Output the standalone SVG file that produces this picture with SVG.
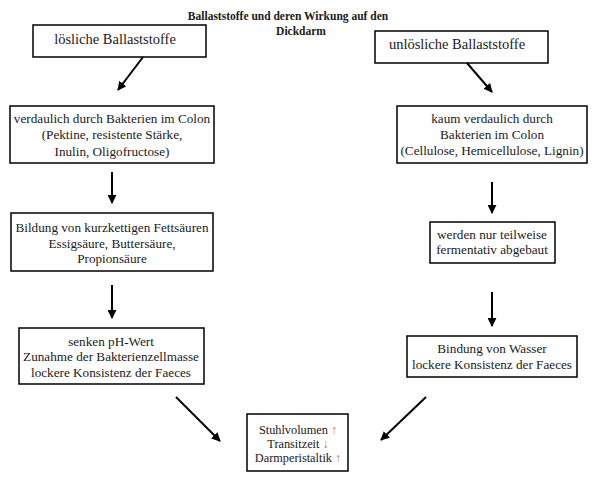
<svg xmlns="http://www.w3.org/2000/svg" width="598" height="481" viewBox="0 0 598 481">
<style>
  .box { fill: #fff; stroke: #000; stroke-width: 1.5; }
  .t { font-family: "Liberation Serif", "Times New Roman", serif; font-size: 13.2px; fill: #1a1a1a; text-anchor: middle; }
  .big { font-size: 14.5px; }
  .sm { font-size: 12.3px; }
  .title { font-family: "Liberation Serif", "Times New Roman", serif; font-size: 11.5px; font-weight: bold; fill: #1a1a1a; text-anchor: middle; }
  .arr { stroke: #000; stroke-width: 2; fill: none; marker-end: url(#ah); }
  .up { fill: #c4823c; }
</style>
<defs>
  <marker id="ah" viewBox="0 0 10 10" refX="9" refY="5" markerWidth="4.5" markerHeight="4.5" orient="auto" markerUnits="strokeWidth">
    <path d="M0,0 L10,5 L0,10 z" fill="#000"/>
  </marker>
</defs>
<rect width="598" height="481" fill="#fff"/>
<g id="title">
  <text class="title" x="288" y="20">Ballaststoffe und deren Wirkung auf den</text>
  <text class="title" x="301" y="35">Dickdarm</text>
</g>
<g id="n1"><rect class="box" x="33" y="25" width="173" height="32"/>
  <text class="t big" x="115" y="44">lösliche  Ballaststoffe</text></g>
<g id="n2"><rect class="box" x="10" y="106" width="204" height="57"/>
  <text class="t" x="112" y="123">verdaulich durch Bakterien im Colon</text>
  <text class="t" x="112" y="139">(Pektine, resistente Stärke,</text>
  <text class="t" x="112" y="156">Inulin, Oligofructose)</text></g>
<g id="n3"><rect class="box" x="11" y="213" width="202" height="58"/>
  <text class="t" x="112" y="232">Bildung von kurzkettigen Fettsäuren</text>
  <text class="t" x="112" y="248">Essigsäure, Buttersäure,</text>
  <text class="t" x="112" y="263">Propionsäure</text></g>
<g id="n4"><rect class="box" x="19" y="328" width="185" height="56"/>
  <text class="t" x="111" y="346">senken pH-Wert</text>
  <text class="t" x="111" y="361">Zunahme der Bakterienzellmasse</text>
  <text class="t" x="111" y="377">lockere Konsistenz der Faeces</text></g>
<g id="n5"><rect class="box" x="375" y="31" width="173" height="32"/>
  <text class="t big" x="457" y="49">unlösliche  Ballaststoffe</text></g>
<g id="n6"><rect class="box" x="397" y="106" width="190" height="57"/>
  <text class="t" x="492" y="123">kaum verdaulich durch</text>
  <text class="t" x="492" y="139">Bakterien im Colon</text>
  <text class="t" x="492" y="155">(Cellulose, Hemicellulose, Lignin)</text></g>
<g id="n7"><rect class="box" x="430" y="222" width="125" height="41"/>
  <text class="t" x="492" y="239">werden nur teilweise</text>
  <text class="t" x="492" y="254">fermentativ abgebaut</text></g>
<g id="n8"><rect class="box" x="407" y="336" width="170" height="41"/>
  <text class="t" x="492" y="353">Bindung von Wasser</text>
  <text class="t" x="492" y="369">lockere Konsistenz der Faeces</text></g>
<g id="n9"><rect class="box" x="247" y="414" width="101" height="57"/>
  <text class="t sm" x="298" y="434">Stuhlvolumen <tspan class="up">↑</tspan></text>
  <text class="t sm" x="298" y="448">Transitzeit <tspan class="up">↓</tspan></text>
  <text class="t sm" x="298" y="462">Darmperistaltik <tspan class="up">↑</tspan></text></g>
<g id="connectors">
  <line class="arr" x1="143" y1="57" x2="118" y2="90"/>
  <line class="arr" x1="112" y1="172" x2="112" y2="203"/>
  <line class="arr" x1="112" y1="285" x2="112" y2="318"/>
  <line class="arr" x1="176" y1="397" x2="220" y2="441"/>
  <line class="arr" x1="467" y1="63" x2="492" y2="92"/>
  <line class="arr" x1="492" y1="182" x2="492" y2="213"/>
  <line class="arr" x1="492" y1="292" x2="492" y2="326"/>
  <line class="arr" x1="426" y1="397" x2="381" y2="440"/>
</g>
</svg>
